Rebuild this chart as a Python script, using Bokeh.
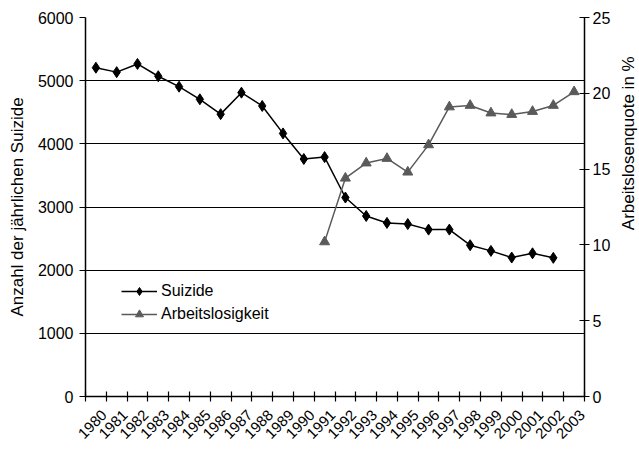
import math
from bokeh.plotting import figure
from bokeh.layouts import row
from bokeh.core.properties import value
from bokeh.models import (Range1d, LinearAxis, FixedTicker, PrintfTickFormatter,
                          Legend, LegendItem)
from bokeh.embed import file_html
from bokeh.resources import INLINE

# ---- data ----
years_suizide = [1980, 1981, 1982, 1983, 1984, 1985, 1986, 1987, 1988, 1989, 1990,
                 1991, 1992, 1993, 1994, 1995, 1996, 1997, 1998, 1999, 2000, 2001, 2002]
suizide = [5205, 5135, 5265, 5070, 4905, 4705, 4470, 4810, 4600, 4165, 3760,
           3790, 3150, 2858, 2748, 2730, 2642, 2642, 2395, 2305, 2200, 2267, 2195]
years_arbeit = [1991, 1992, 1993, 1994, 1995, 1996, 1997, 1998, 1999, 2000, 2001, 2002, 2003]
arbeitslosigkeit = [10.2, 14.4, 15.4, 15.7, 14.8, 16.6, 19.1, 19.2, 18.7, 18.6, 18.8, 19.2, 20.1]
year_ticks = [1980, 1981, 1982, 1983, 1984, 1985, 1986, 1987, 1988, 1989, 1990, 1991,
              1992, 1993, 1994, 1995, 1996, 1997, 1998, 1999, 2000, 2001, 2002, 2003]
left_ticks = [0, 1000, 2000, 3000, 4000, 5000, 6000]
grid_ticks = [1000, 2000, 3000, 4000, 5000]
right_ticks = [0, 5, 10, 15, 20, 25]
left_title = "Anzahl der jährlichen Suizide"
right_title = "Arbeitslosenquote in %"

FONT = "Liberation Sans"
GRAY = "#5a5a5a"

p = figure(width=619, height=449,
           x_range=Range1d(year_ticks[0] - 0.5, year_ticks[-1] + 0.5),
           y_range=Range1d(0, 6000),
           output_backend="svg", toolbar_location=None,
           min_border_left=85, min_border_right=35,
           min_border_top=17, min_border_bottom=53)
p.outline_line_color = None
p.background_fill_color = "white"
p.border_fill_color = "white"
p.extra_y_ranges = {"right": Range1d(0, 25)}
# label range shifted so the rotated labels sit centred under their year
p.extra_x_ranges = {"labels": Range1d(year_ticks[0] - 0.9, year_ticks[-1] + 0.1)}

# main x axis: tick marks at category boundaries, no labels
xa = p.xaxis[0]
bounds = [y - 0.5 for y in year_ticks] + [year_ticks[-1] + 0.5]
xa.ticker = FixedTicker(ticks=bounds, minor_ticks=[])
xa.major_label_overrides = {b: "" for b in bounds}
xa.major_label_text_font_size = "1px"
xa.major_label_standoff = 0
xa.major_tick_in = 5
xa.major_tick_out = 5
xa.major_tick_line_color = "black"
xa.major_tick_line_width = 1.2
xa.minor_tick_line_color = None
xa.axis_line_color = "black"
xa.axis_line_width = 1.5

# label axis
la = LinearAxis(x_range_name="labels", ticker=FixedTicker(ticks=year_ticks, minor_ticks=[]))
la.formatter = PrintfTickFormatter(format="%d")
la.axis_line_color = None
la.major_tick_line_color = None
la.minor_tick_line_color = None
la.major_tick_in = 0
la.major_tick_out = 0
la.major_label_orientation = math.pi / 4
la.major_label_text_font = FONT
la.major_label_text_font_size = "15px"
la.major_label_text_color = "black"
la.major_label_standoff = 11
p.add_layout(la, "below")

# left axis
ya = p.yaxis[0]
ya.ticker = FixedTicker(ticks=left_ticks)
ya.minor_tick_line_color = None
ya.major_tick_in = 0
ya.major_tick_out = 6
ya.major_tick_line_color = "black"
ya.major_tick_line_width = 1.2
ya.axis_line_color = "black"
ya.axis_line_width = 1.5
ya.major_label_text_font = FONT
ya.major_label_text_font_size = "16px"
ya.major_label_text_color = "black"
ya.major_label_standoff = 6
ya.axis_label = left_title
ya.axis_label_text_font = FONT
ya.axis_label_text_font_size = "17px"
ya.axis_label_text_font_style = "normal"
ya.axis_label_text_color = "black"
ya.axis_label_standoff = 8

# right axis
ra = LinearAxis(y_range_name="right", ticker=FixedTicker(ticks=right_ticks))
ra.minor_tick_line_color = None
ra.major_tick_in = 5
ra.major_tick_out = 5
ra.major_tick_line_color = "black"
ra.major_tick_line_width = 1.2
ra.axis_line_color = "black"
ra.axis_line_width = 1.5
ra.major_label_text_font = FONT
ra.major_label_text_font_size = "16px"
ra.major_label_text_color = "black"
ra.major_label_standoff = 3
p.add_layout(ra, "right")

# grid
p.xgrid.grid_line_color = None
p.ygrid.ticker = FixedTicker(ticks=grid_ticks)
p.ygrid.grid_line_color = "black"
p.ygrid.grid_line_width = 1.2

# series
l1 = p.line(years_suizide, suizide, line_color="black", line_width=1.5)
s1 = p.scatter(years_suizide, suizide, marker="diamond", size=11,
               fill_color="black", line_color="black")
l2 = p.line(years_arbeit, arbeitslosigkeit, line_color=GRAY, line_width=1.5,
            y_range_name="right")
s2 = p.scatter(years_arbeit, arbeitslosigkeit, marker="triangle", size=10,
               fill_color=GRAY, line_color=GRAY, y_range_name="right")

legend = Legend(items=[LegendItem(label="Suizide", renderers=[l1, s1]),
                       LegendItem(label="Arbeitslosigkeit", renderers=[l2, s2])],
                location=(36, 72))
legend.border_line_color = None
legend.background_fill_alpha = 0
legend.padding = 0
legend.margin = 0
legend.spacing = 3
legend.glyph_width = 36
legend.label_standoff = 4
legend.label_text_font = FONT
legend.label_text_font_size = "16px"
legend.label_text_color = "black"
p.add_layout(legend)

# narrow strip to the right carrying the right-axis title (reads bottom to top)
t = figure(width=20, height=449, x_range=Range1d(0, 20), y_range=Range1d(0, 449),
           output_backend="svg", toolbar_location=None,
           x_axis_location=None, y_axis_location=None,
           min_border_left=0, min_border_right=0, min_border_top=0, min_border_bottom=0)
t.outline_line_color = None
t.grid.grid_line_color = None
t.border_fill_color = "white"
t.background_fill_color = "white"
t.text(x=[9], y=[300], text=[right_title], angle=math.pi / 2,
       text_align="center", text_baseline="middle",
       text_font=value(FONT), text_font_size="17px", text_color="black")

layout = row(p, t, spacing=0)
open("out.html", "w").write(file_html(layout, INLINE))
